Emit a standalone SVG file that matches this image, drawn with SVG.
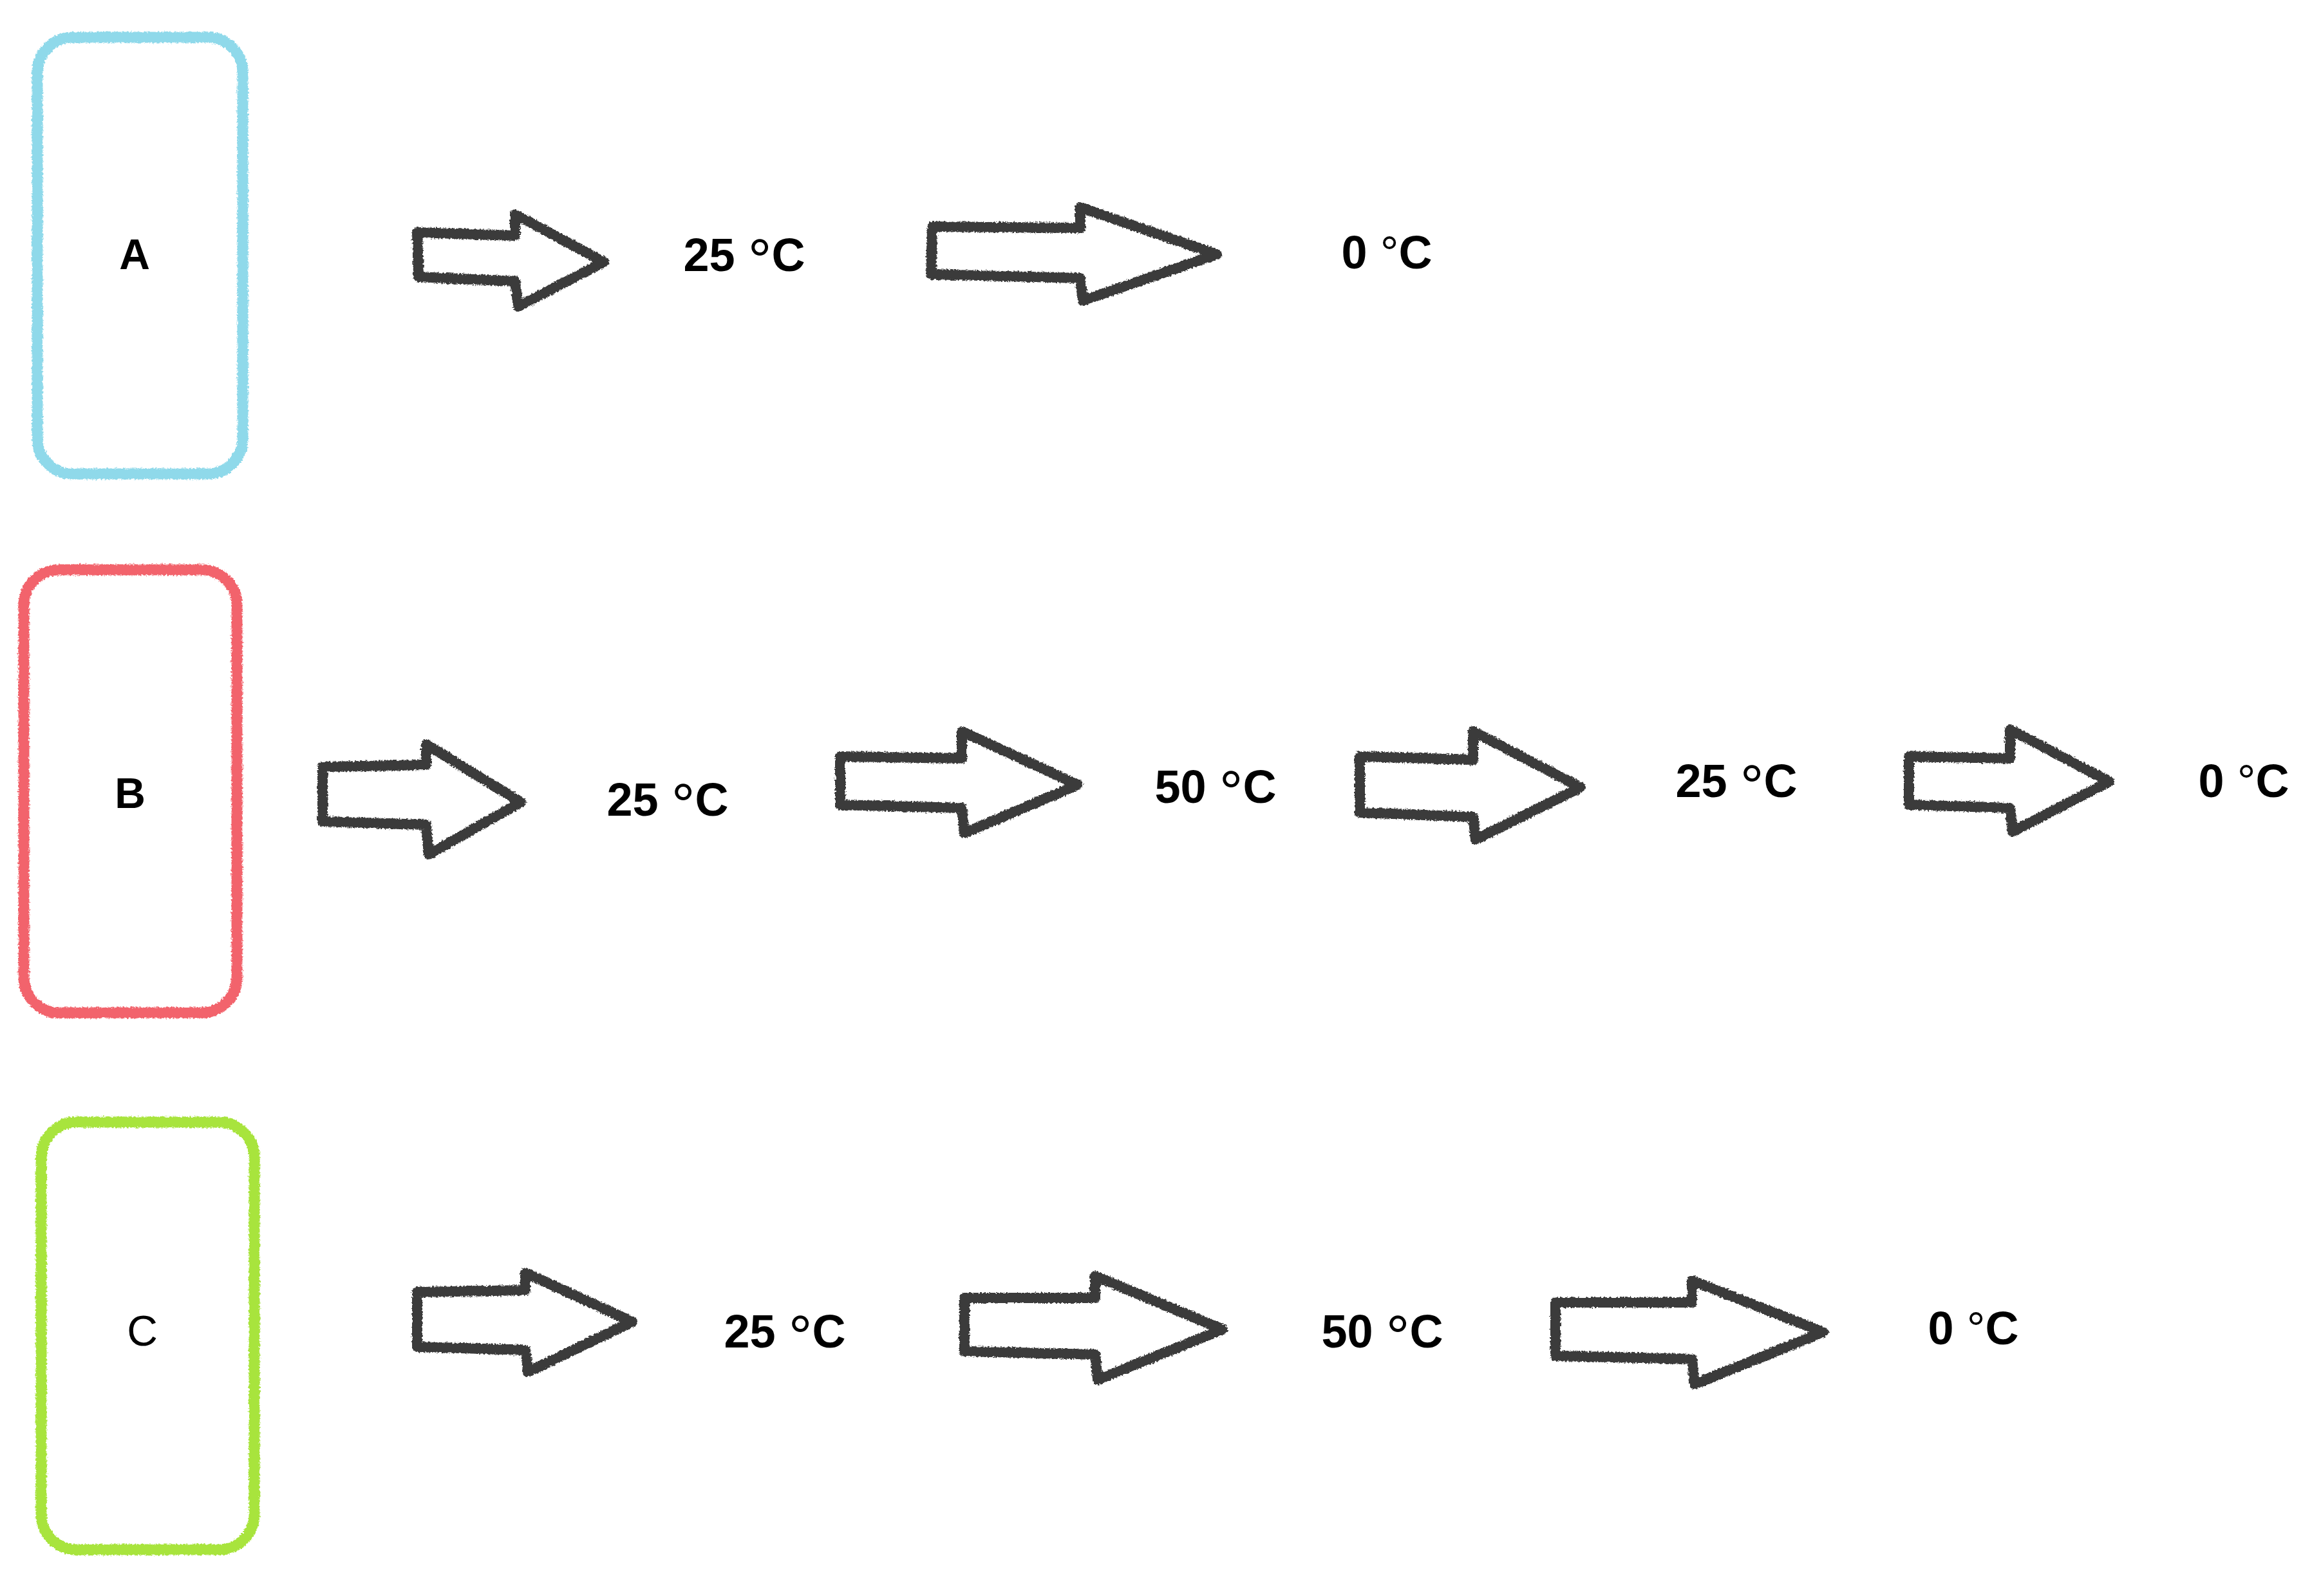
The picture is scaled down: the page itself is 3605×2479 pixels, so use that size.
<svg xmlns="http://www.w3.org/2000/svg" width="3605" height="2479" viewBox="0 0 3605 2479">
<defs>
<filter id="rough" x="-5%" y="-5%" width="110%" height="110%">
<feTurbulence type="fractalNoise" baseFrequency="0.35" numOctaves="2" seed="3" result="n"/>
<feDisplacementMap in="SourceGraphic" in2="n" scale="6" xChannelSelector="R" yChannelSelector="G"/>
</filter>
</defs>
<style>
.box{fill:none;stroke-width:17;stroke-linejoin:round;filter:url(#rough)}
.arr{fill:none;stroke:#3a3a3a;stroke-width:16;stroke-linejoin:round;filter:url(#rough)}
.lbl{font-family:"Liberation Sans",Arial,sans-serif;font-size:66px;fill:#000;text-anchor:middle}
.t{font-family:"Liberation Sans",Arial,sans-serif;font-size:72px;fill:#000;text-anchor:middle;font-weight:bold}
.n{font-weight:bold}
</style>
<rect width="3605" height="2479" fill="#ffffff"/>
<g id="nodeA">
<rect class="box" x="58" y="58" width="319" height="678" rx="55" stroke="#8fd9ea"/>
<text class="lbl n" x="209" y="418">A</text>
</g>
<g id="nodeB">
<rect class="box" x="37" y="885" width="331" height="688" rx="55" stroke="#f2646c"/>
<text class="lbl n" x="202" y="1255">B</text>
</g>
<g id="nodeC">
<rect class="box" x="64" y="1743" width="331" height="664" rx="55" stroke="#a8e43c"/>
<text class="lbl" x="221" y="2090">C</text>
</g>
<g id="labels">
<text class="t" x="1156" y="421">25 <tspan font-size="92" font-weight="normal" dy="15">°</tspan><tspan dy="-15">C</tspan></text>
<text class="t" x="2154" y="417">0 <tspan font-weight="normal">°</tspan>C</text>
<text class="t" x="1037" y="1267">25 <tspan font-size="92" font-weight="normal" dy="15">°</tspan><tspan dy="-15">C</tspan></text>
<text class="t" x="1888" y="1247">50 <tspan font-size="92" font-weight="normal" dy="15">°</tspan><tspan dy="-15">C</tspan></text>
<text class="t" x="2697" y="1238">25 <tspan font-size="92" font-weight="normal" dy="15">°</tspan><tspan dy="-15">C</tspan></text>
<text class="t" x="3485" y="1238">0 <tspan font-weight="normal">°</tspan>C</text>
<text class="t" x="1219" y="2093">25 <tspan font-size="92" font-weight="normal" dy="15">°</tspan><tspan dy="-15">C</tspan></text>
<text class="t" x="2147" y="2093">50 <tspan font-size="92" font-weight="normal" dy="15">°</tspan><tspan dy="-15">C</tspan></text>
<text class="t" x="3065" y="2088">0 <tspan font-weight="normal">°</tspan>C</text>
</g>
<g id="connectors">
<path class="arr" d="M648,361 L800,366 L800,333 L938,407 L805,476 L800,437 L650,430 Z"/>
<path class="arr" d="M1448,352 L1678,354 L1678,322 L1890,395 L1682,467 L1678,432 L1446,426 Z"/>
<path class="arr" d="M501,1191 L662,1188 L662,1156 L809,1246 L666,1327 L662,1281 L501,1276 Z"/>
<path class="arr" d="M1305,1175 L1494,1178 L1494,1136 L1674,1219 L1498,1294 L1494,1255 L1305,1250 Z"/>
<path class="arr" d="M2112,1175 L2288,1180 L2288,1136 L2455,1223 L2292,1304 L2288,1269 L2112,1262 Z"/>
<path class="arr" d="M2965,1175 L3122,1178 L3122,1133 L3276,1214 L3126,1292 L3122,1255 L2965,1250 Z"/>
<path class="arr" d="M648,2007 L816,2004 L816,1977 L982,2053 L820,2131 L816,2097 L648,2092 Z"/>
<path class="arr" d="M1498,2016 L1701,2016 L1701,1982 L1899,2065 L1705,2143 L1701,2104 L1498,2099 Z"/>
<path class="arr" d="M2416,2023 L2628,2023 L2628,1989 L2832,2069 L2632,2150 L2628,2111 L2416,2106 Z"/>
</g>
</svg>
